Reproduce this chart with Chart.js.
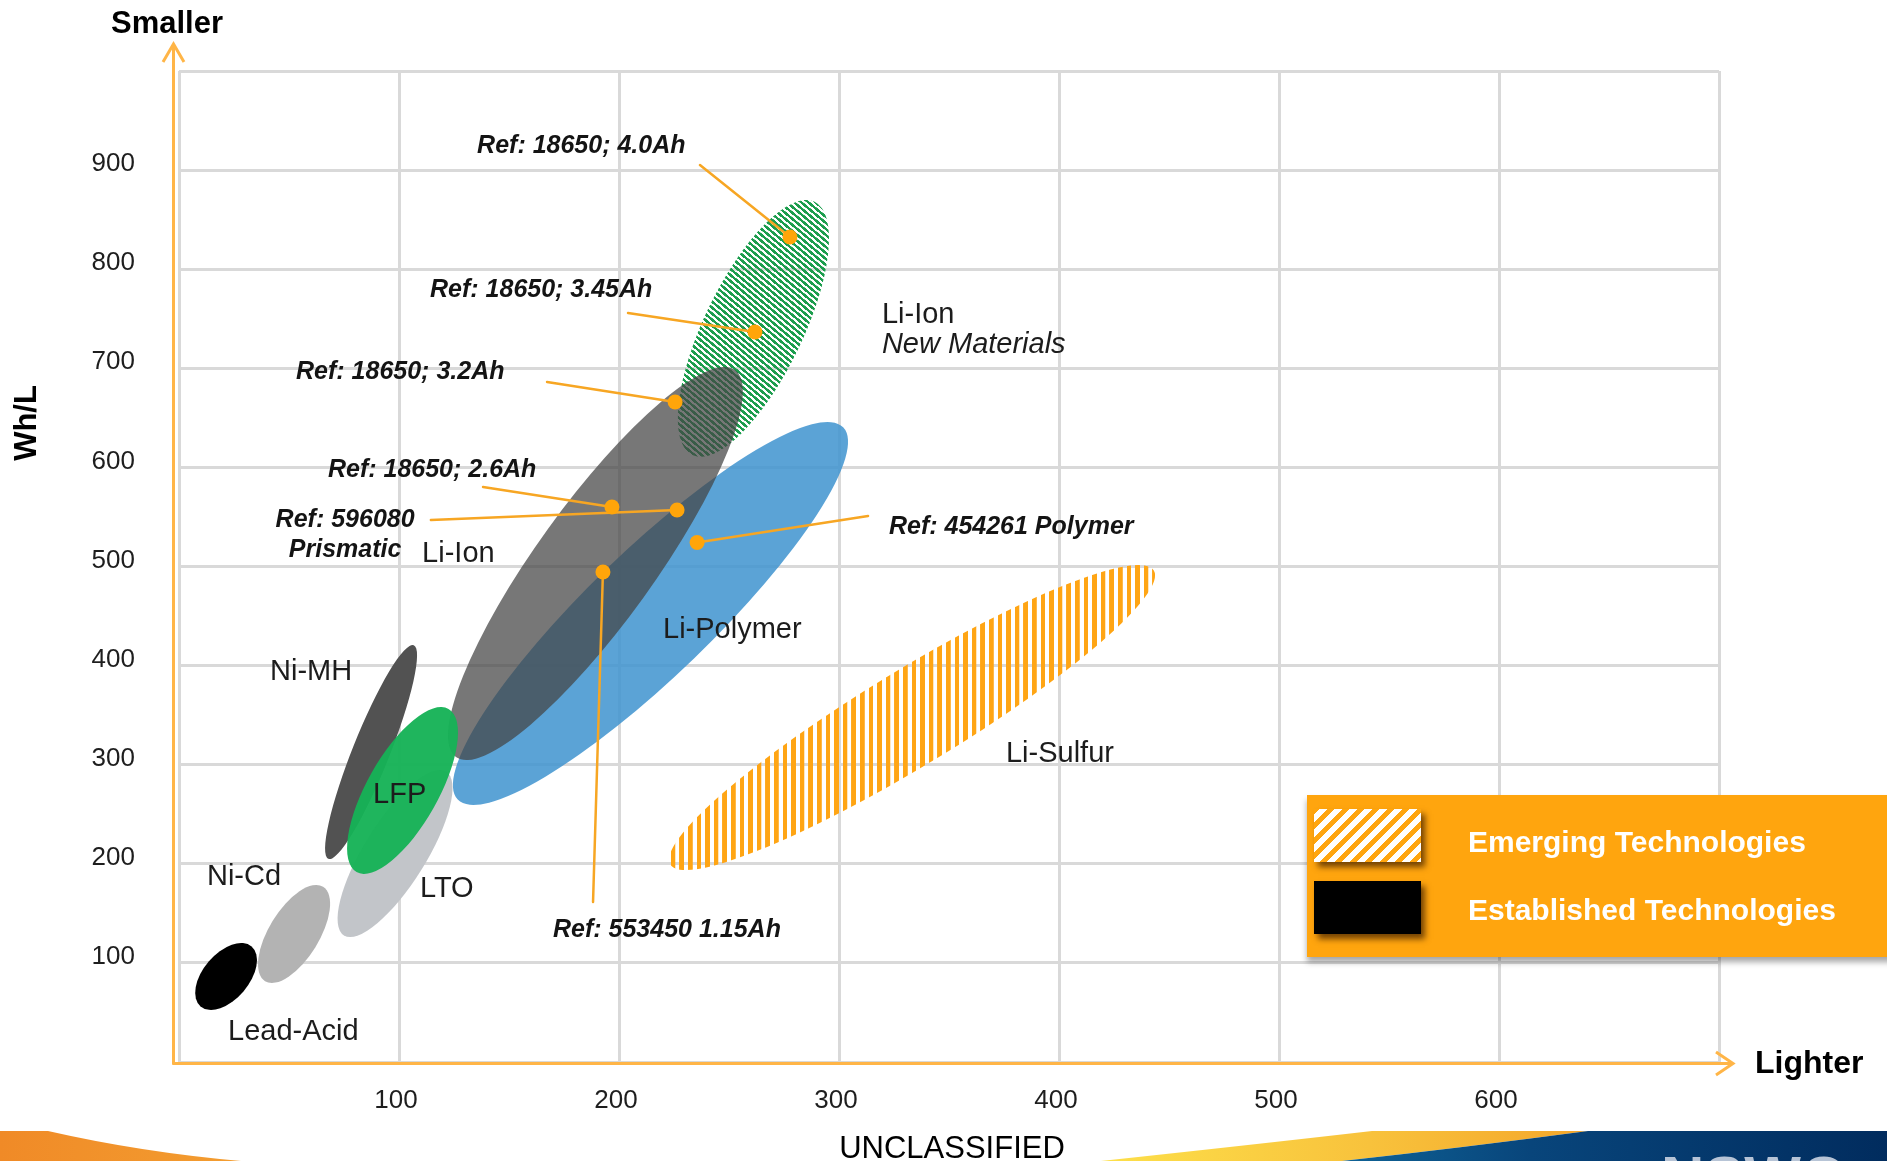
<!DOCTYPE html>
<html><head><meta charset="utf-8">
<script src="https://cdn.jsdelivr.net/npm/chart.js@4.4.1/dist/chart.umd.min.js"></script>
<style>html,body{margin:0;padding:0;background:#fff;overflow:hidden}canvas{display:block}</style>
</head><body>
<canvas id="c" width="1887" height="1161"></canvas>
<script>
// ===================== DATA =====================
const xTickLabels = [100, 200, 300, 400, 500, 600];           // Wh/kg
const yTickLabels = [100, 200, 300, 400, 500, 600, 700, 800, 900]; // Wh/L

// technology regions (ellipses): centre, end of major semi-axis, end of minor semi-axis (Wh/kg, Wh/L)
const techNames  = ['Li-Sulfur', 'Li-Polymer', 'Li-Ion New Materials', 'Li-Ion', 'LTO', 'Ni-Cd', 'Lead-Acid', 'Ni-MH', 'LFP'];
const techKind   = ['emerging', 'established', 'emerging', 'established', 'established', 'established', 'established', 'established', 'established'];
const centerWhKg = [333.2, 214.3, 261.1, 189.3, 98.2, 52.3, 21.4, 87.3, 101.6];
const centerWhL  = [347.6, 452.6, 740.2, 503.0, 210.4, 129.2, 86.3, 312.8, 274.0];
const majorWhKg  = [443.1, 301.9, 288.9, 252.7, 121.4, 65.5, 33.0, 106.7, 122.5];
const majorWhL   = [495.9, 640.4, 868.0, 698.2, 293.1, 176.8, 116.5, 420.6, 356.3];
const minorWhKg  = [344.5, 234.1, 281.3, 211.0, 110.2, 62.0, 29.3, 95.1, 115.7];
const minorWhL   = [306.4, 407.2, 718.6, 468.3, 193.9, 115.9, 71.2, 305.8, 256.3];

// reference cells
const refNames = ['Ref: 18650; 4.0Ah', 'Ref: 18650; 3.45Ah', 'Ref: 18650; 3.2Ah', 'Ref: 18650; 2.6Ah', 'Ref: 596080\nPrismatic', 'Ref: 454261 Polymer', 'Ref: 553450 1.15Ah'];
const refWhKg  = [277.7, 261.8, 225.5, 196.8, 226.4, 235.5, 192.7];
const refWhL   = [832.5, 736.6, 666.0, 560.0, 557.0, 524.2, 494.4];

const legendLabels = ['Emerging Technologies', 'Established Technologies'];

// ===================== LAYOUT / STYLE =====================
const FONT = 'Liberation Sans, Arial, Helvetica, sans-serif';
const ORANGE = '#ffa50e';
const AXIS_ORANGE = '#ffb547';
const TXT_DY = 2; // small optical baseline correction

// region label anchors (in data units), line texts
const regionLabels = [
  { lines: ['Li-Ion'], at: [110.5, 514.6] },
  { lines: ['Li-Polymer'], at: [220.0, 437.9] },
  { lines: ['Li-Sulfur'], at: [375.9, 312.8] },
  { lines: ['Li-Ion', 'New Materials'], italic: [false, true], at: [319.5, 755.8] },
  { lines: ['Ni-MH'], at: [41.4, 395.6] },
  { lines: ['LFP'], at: [88.2, 271.4] },
  { lines: ['Ni-Cd'], at: [12.7, 188.7] },
  { lines: ['LTO'], at: [109.5, 176.6] },
  { lines: ['Lead-Acid'], at: [22.3, 32.3] }
];
// leader-line start and text anchor for each reference (data units)
const refLayout = [
  { from: [236.8, 905.1], at: [135.5, 926.3], align: 'left' },
  { from: [204.1, 755.8], at: [114.1, 781.0], align: 'left' },
  { from: [167.3, 686.2], at: [53.2, 698.3], align: 'left' },
  { from: [138.2, 580.2], at: [67.7, 599.4], align: 'left' },
  { from: [114.5, 546.9], at: [75.5, 548.9], align: 'center' },
  { from: [313.2, 551.0], at: [322.7, 541.9], align: 'left' },
  { from: [188.2, 161.5], at: [170.0, 135.2], align: 'left' }
];

function stripePattern(ctx, period, width, color, angleDeg, bg) {
  const T = 40;
  const t = document.createElement('canvas');
  t.width = T; t.height = T;
  const c = t.getContext('2d');
  if (bg) { c.fillStyle = bg; c.fillRect(0, 0, T, T); }
  c.fillStyle = color;
  c.fillRect(0, 0, T * width / period, T);
  const p = ctx.createPattern(t, 'repeat');
  const s = period / T;
  p.setTransform(new DOMMatrix().rotateSelf(angleDeg).scaleSelf(s, s));
  return p;
}

const canvas = document.getElementById('c');
const ctx0 = canvas.getContext('2d');
const fills = {
  'Li-Sulfur': stripePattern(ctx0, 8.6, 4.6, '#ffa514', 0),
  'Li-Polymer': 'rgba(62,147,207,0.85)',
  'Li-Ion New Materials': stripePattern(ctx0, 4.6, 2.5, '#1c9d4d', -50),
  'Li-Ion': 'rgba(69,69,69,0.73)',
  'LTO': '#c2c5c9',
  'Ni-Cd': '#b3b3b3',
  'Lead-Acid': '#000000',
  'Ni-MH': '#525252',
  'LFP': 'rgba(22,178,86,0.96)'
};

function ellipsePath(ctx, xs, ys, i) {
  const cx = xs.getPixelForValue(centerWhKg[i]), cy = ys.getPixelForValue(centerWhL[i]);
  const ux = xs.getPixelForValue(majorWhKg[i]) - cx, uy = ys.getPixelForValue(majorWhL[i]) - cy;
  const vx = xs.getPixelForValue(minorWhKg[i]) - cx, vy = ys.getPixelForValue(minorWhL[i]) - cy;
  ctx.beginPath();
  ctx.save();
  ctx.transform(ux, uy, vx, vy, cx, cy);
  ctx.arc(0, 0, 1, 0, Math.PI * 2);
  ctx.restore();
}

const batteryPlugin = {
  id: 'battery',
  beforeDatasetsDraw(chart) {
    const { ctx, chartArea: a } = chart;
    const xs = chart.scales.x, ys = chart.scales.y;
    ctx.save();
    ctx.beginPath(); ctx.rect(a.left, a.top, a.right - a.left, a.bottom - a.top); ctx.clip();
    for (let i = 0; i < techNames.length; i++) {
      ellipsePath(ctx, xs, ys, i);
      ctx.fillStyle = fills[techNames[i]];
      ctx.fill();
    }
    // leader lines
    ctx.strokeStyle = '#f7a623';
    ctx.lineWidth = 2.5;
    ctx.lineCap = 'round';
    refLayout.forEach((r, i) => {
      ctx.beginPath();
      ctx.moveTo(xs.getPixelForValue(r.from[0]), ys.getPixelForValue(r.from[1]));
      ctx.lineTo(xs.getPixelForValue(refWhKg[i]), ys.getPixelForValue(refWhL[i]));
      ctx.stroke();
    });
    ctx.restore();
  },
  afterDatasetsDraw(chart) {
    const { ctx } = chart;
    const xs = chart.scales.x, ys = chart.scales.y;
    ctx.save();
    ctx.textBaseline = 'middle';
    // region labels
    regionLabels.forEach(l => {
      const px = xs.getPixelForValue(l.at[0]), py = ys.getPixelForValue(l.at[1]) + TXT_DY;
      l.lines.forEach((t, k) => {
        ctx.font = ((l.italic && l.italic[k]) ? 'italic ' : '') + '29px ' + FONT;
        ctx.fillStyle = '#1c1c1c';
        ctx.textAlign = 'left';
        ctx.fillText(t, px, py + k * 30);
      });
    });
    // reference labels
    ctx.font = 'italic bold 25px ' + FONT;
    ctx.fillStyle = '#141414';
    refLayout.forEach((r, i) => {
      const px = xs.getPixelForValue(r.at[0]), py = ys.getPixelForValue(r.at[1]) + TXT_DY;
      ctx.textAlign = r.align;
      refNames[i].split('\n').forEach((t, k) => ctx.fillText(t, px, py + k * 30));
    });
    ctx.restore();
  },
  afterDraw(chart) {
    const { ctx, chartArea: a } = chart;
    const W = chart.width, H = chart.height;
    ctx.save();
    // axis arrows
    ctx.strokeStyle = AXIS_ORANGE;
    ctx.lineWidth = 3;
    ctx.lineJoin = 'miter';
    const ax = a.left - 5.5, ay = a.bottom + 1.5;
    ctx.beginPath(); ctx.moveTo(ax, ay + 1); ctx.lineTo(ax, 45); ctx.stroke();
    ctx.beginPath(); ctx.moveTo(ax - 10.5, 62); ctx.lineTo(ax, 44); ctx.lineTo(ax + 10.5, 62); ctx.stroke();
    ctx.beginPath(); ctx.moveTo(ax - 1, ay); ctx.lineTo(1731, ay); ctx.stroke();
    ctx.beginPath(); ctx.moveTo(1716, ay - 11.5); ctx.lineTo(1733, ay); ctx.lineTo(1716, ay + 11.5); ctx.stroke();

    // axis words
    ctx.fillStyle = '#000';
    ctx.textBaseline = 'middle';
    ctx.font = 'bold 31px ' + FONT;
    ctx.textAlign = 'left';
    ctx.fillText('Smaller', 111, 24);
    ctx.font = 'bold 32px ' + FONT;
    ctx.fillText('Lighter', 1755, 1064);
    ctx.save();
    ctx.translate(27, 423);
    ctx.rotate(-Math.PI / 2);
    ctx.textAlign = 'center';
    ctx.font = 'bold 31px ' + FONT;
    ctx.fillText('Wh/L', 0, 0);
    ctx.restore();

    // legend box
    ctx.save();
    ctx.shadowColor = 'rgba(0,0,0,0.35)';
    ctx.shadowBlur = 6; ctx.shadowOffsetY = 5; ctx.shadowOffsetX = 0;
    ctx.fillStyle = ORANGE;
    ctx.fillRect(1307, 795, W - 1307 + 10, 162);
    ctx.restore();
    // emerging swatch
    const sw = [1314, 809, 107, 53];
    ctx.save();
    ctx.shadowColor = 'rgba(70,35,0,0.75)';
    ctx.shadowBlur = 6; ctx.shadowOffsetX = 4; ctx.shadowOffsetY = 5;
    ctx.fillStyle = ORANGE;
    ctx.fillRect(sw[0], sw[1], sw[2], sw[3]);
    ctx.restore();
    ctx.save();
    ctx.beginPath(); ctx.rect(sw[0], sw[1], sw[2], sw[3]); ctx.clip();
    ctx.fillStyle = stripePattern(ctx, 10.6, 5.6, '#ffffff', 45);
    ctx.fillRect(sw[0], sw[1], sw[2], sw[3]);
    ctx.restore();
    // established swatch
    ctx.save();
    ctx.shadowColor = 'rgba(70,35,0,0.75)';
    ctx.shadowBlur = 6; ctx.shadowOffsetX = 4; ctx.shadowOffsetY = 5;
    ctx.fillStyle = '#000';
    ctx.fillRect(1314, 881, 107, 53);
    ctx.restore();
    ctx.fillStyle = '#ffffff';
    ctx.font = 'bold 30px ' + FONT;
    ctx.textAlign = 'left';
    ctx.fillText(legendLabels[0], 1468, 844);
    ctx.fillText(legendLabels[1], 1468, 912);

    // bottom banner
    let g = ctx.createLinearGradient(0, 0, 240, 0);
    g.addColorStop(0, '#f08a27'); g.addColorStop(1, '#f39d30');
    ctx.fillStyle = g;
    ctx.beginPath(); ctx.moveTo(0, 1131); ctx.lineTo(48, 1131);
    ctx.quadraticCurveTo(140, 1152, 241, 1161); ctx.lineTo(0, 1161); ctx.closePath(); ctx.fill();
    g = ctx.createLinearGradient(1100, 0, 1590, 0);
    g.addColorStop(0, '#fde04a'); g.addColorStop(0.55, '#f8c23c'); g.addColorStop(1, '#f4a62a');
    ctx.fillStyle = g;
    ctx.beginPath(); ctx.moveTo(1101, 1161); ctx.quadraticCurveTo(1250, 1145, 1372, 1131);
    ctx.lineTo(1588, 1131); ctx.quadraticCurveTo(1460, 1148, 1342, 1161); ctx.closePath(); ctx.fill();
    g = ctx.createLinearGradient(1340, 0, W, 0);
    g.addColorStop(0, '#0f6396'); g.addColorStop(0.35, '#08457b'); g.addColorStop(1, '#012c5e');
    ctx.fillStyle = g;
    ctx.beginPath(); ctx.moveTo(1342, 1161); ctx.quadraticCurveTo(1460, 1148, 1588, 1131);
    ctx.lineTo(W, 1131); ctx.lineTo(W, 1161); ctx.closePath(); ctx.fill();
    ctx.fillStyle = '#b7c4d6';
    ctx.font = 'bold 60px ' + FONT;
    ctx.textBaseline = 'alphabetic';
    ctx.fillText('NSWC', 1661, 1198);

    ctx.fillStyle = '#000';
    ctx.textBaseline = 'middle';
    ctx.textAlign = 'center';
    ctx.font = '31px ' + FONT;
    ctx.fillText('UNCLASSIFIED', 952, 1149);
    ctx.restore();
  }
};

Chart.defaults.font.family = FONT;

new Chart(canvas, {
  type: 'scatter',
  data: {
    datasets: [{
      label: 'Reference cells',
      data: refWhKg.map((v, i) => ({ x: v, y: refWhL[i] })),
      pointRadius: 7.5,
      pointHoverRadius: 7.5,
      pointBackgroundColor: '#ffa50a',
      pointBorderWidth: 0
    }]
  },
  options: {
    responsive: false,
    animation: false,
    devicePixelRatio: 1,
    layout: { padding: { top: 71, right: 168, left: 0, bottom: 0 } },
    plugins: { legend: { display: false }, tooltip: { enabled: false } },
    scales: {
      x: {
        type: 'linear', min: 0, max: 700,
        afterFit: s => { s.height = 99; },
        ticks: {
          stepSize: 100, autoSkip: false, maxRotation: 0, padding: 23, labelOffset: -3,
          color: '#1e1e1e', font: { size: 26 },
          callback: v => xTickLabels.includes(v) ? String(v) : ''
        },
        grid: { color: '#d9d9d9', lineWidth: 3, drawTicks: false },
        border: { display: false }
      },
      y: {
        type: 'linear', min: 0, max: 1000,
        afterFit: s => { s.width = 179; },
        ticks: {
          stepSize: 100, autoSkip: false, padding: 44, labelOffset: -6,
          color: '#1e1e1e', font: { size: 26 },
          callback: v => yTickLabels.includes(v) ? String(v) : ''
        },
        grid: { color: '#d9d9d9', lineWidth: 3, drawTicks: false },
        border: { display: false }
      }
    }
  },
  plugins: [batteryPlugin]
});
</script>
</body></html>
